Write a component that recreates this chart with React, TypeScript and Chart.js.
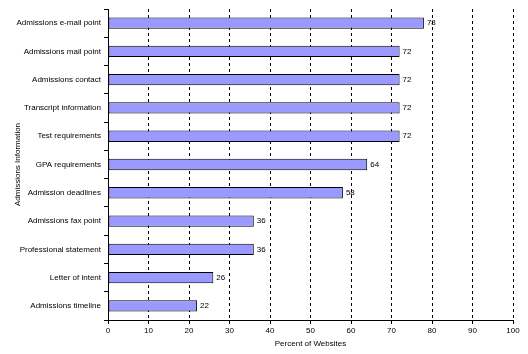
import React, { useEffect, useRef } from "react";
import { Chart, registerables } from "chart.js";

Chart.register(...registerables);

const categories = [
  "Admissions e-mail point",
  "Admissions mail point",
  "Admissions contact",
  "Transcript information",
  "Test requirements",
  "GPA requirements",
  "Admission deadlines",
  "Admissions fax point",
  "Professional statement",
  "Letter of intent",
  "Admissions timeline",
];
const values = [78, 72, 72, 72, 72, 64, 58, 36, 36, 26, 22];
const xTicks = [0, 10, 20, 30, 40, 50, 60, 70, 80, 90, 100];
const xTitle = "Percent of Websites";
const yTitle = "Admissions Information";

const FONT = "'Liberation Sans', Arial, sans-serif";

const valueLabels = {
  id: "valueLabels",
  afterDatasetsDraw(chart: any) {
    const ctx = chart.ctx;
    const meta = chart.getDatasetMeta(0);
    ctx.save();
    ctx.font = `8px ${FONT}`;
    ctx.fillStyle = "#000";
    ctx.textBaseline = "middle";
    ctx.textAlign = "left";
    meta.data.forEach((bar: any, i: number) => {
      ctx.fillText(String(values[i]), bar.x + 3, bar.y);
    });
    ctx.restore();
  },
};

export default function App() {
  const ref = useRef<HTMLCanvasElement | null>(null);
  useEffect(() => {
    document.body.style.margin = "0";
    const c = new Chart(ref.current!, {
      type: "bar",
      data: {
        labels: categories,
        datasets: [
          {
            data: values,
            backgroundColor: "#9999FF",
            borderColor: "#000",
            borderWidth: 1,
            borderSkipped: false,
            barPercentage: 0.4,
            categoryPercentage: 1,
          },
        ],
      },
      options: {
        indexAxis: "y",
        animation: false,
        responsive: false,
        layout: { padding: { top: 9, right: 15, left: 0, bottom: 0 } },
        plugins: { legend: { display: false }, tooltip: { enabled: false } },
        scales: {
          x: {
            min: 0,
            max: 100,
            afterBuildTicks: (s: any) => {
              s.ticks = xTicks.map((v) => ({ value: v }));
            },
            afterFit: (s: any) => {
              s.height = 34;
            },
            grid: {
              color: "#000",
              lineWidth: 1,
              tickLength: 4,
              tickColor: "#000",
            },
            border: { display: true, color: "#000", width: 1, dash: [3, 3] },
            ticks: {
              color: "#000",
              font: { family: FONT, size: 8 },
              padding: 2,
              maxRotation: 0,
            },
            title: {
              display: true,
              text: xTitle,
              color: "#000",
              font: { family: FONT, size: 8 },
              padding: { top: 0, bottom: 5 },
            },
          },
          y: {
            afterFit: (s: any) => {
              s.width = 108;
            },
            grid: {
              display: true,
              drawOnChartArea: false,
              drawTicks: true,
              tickLength: 4,
              tickColor: "#000",
              offset: true,
            },
            border: { display: true, color: "#000", width: 1 },
            ticks: {
              color: "#000",
              font: { family: FONT, size: 8 },
              padding: 3,
              autoSkip: false,
            },
            title: {
              display: true,
              text: yTitle,
              color: "#000",
              font: { family: FONT, size: 8 },
              padding: { top: 13, bottom: 0 },
            },
          },
        },
      },
      plugins: [valueLabels],
    });
    return () => c.destroy();
  }, []);
  return <canvas ref={ref} width={528} height={354} style={{ display: "block" }} />;
}
